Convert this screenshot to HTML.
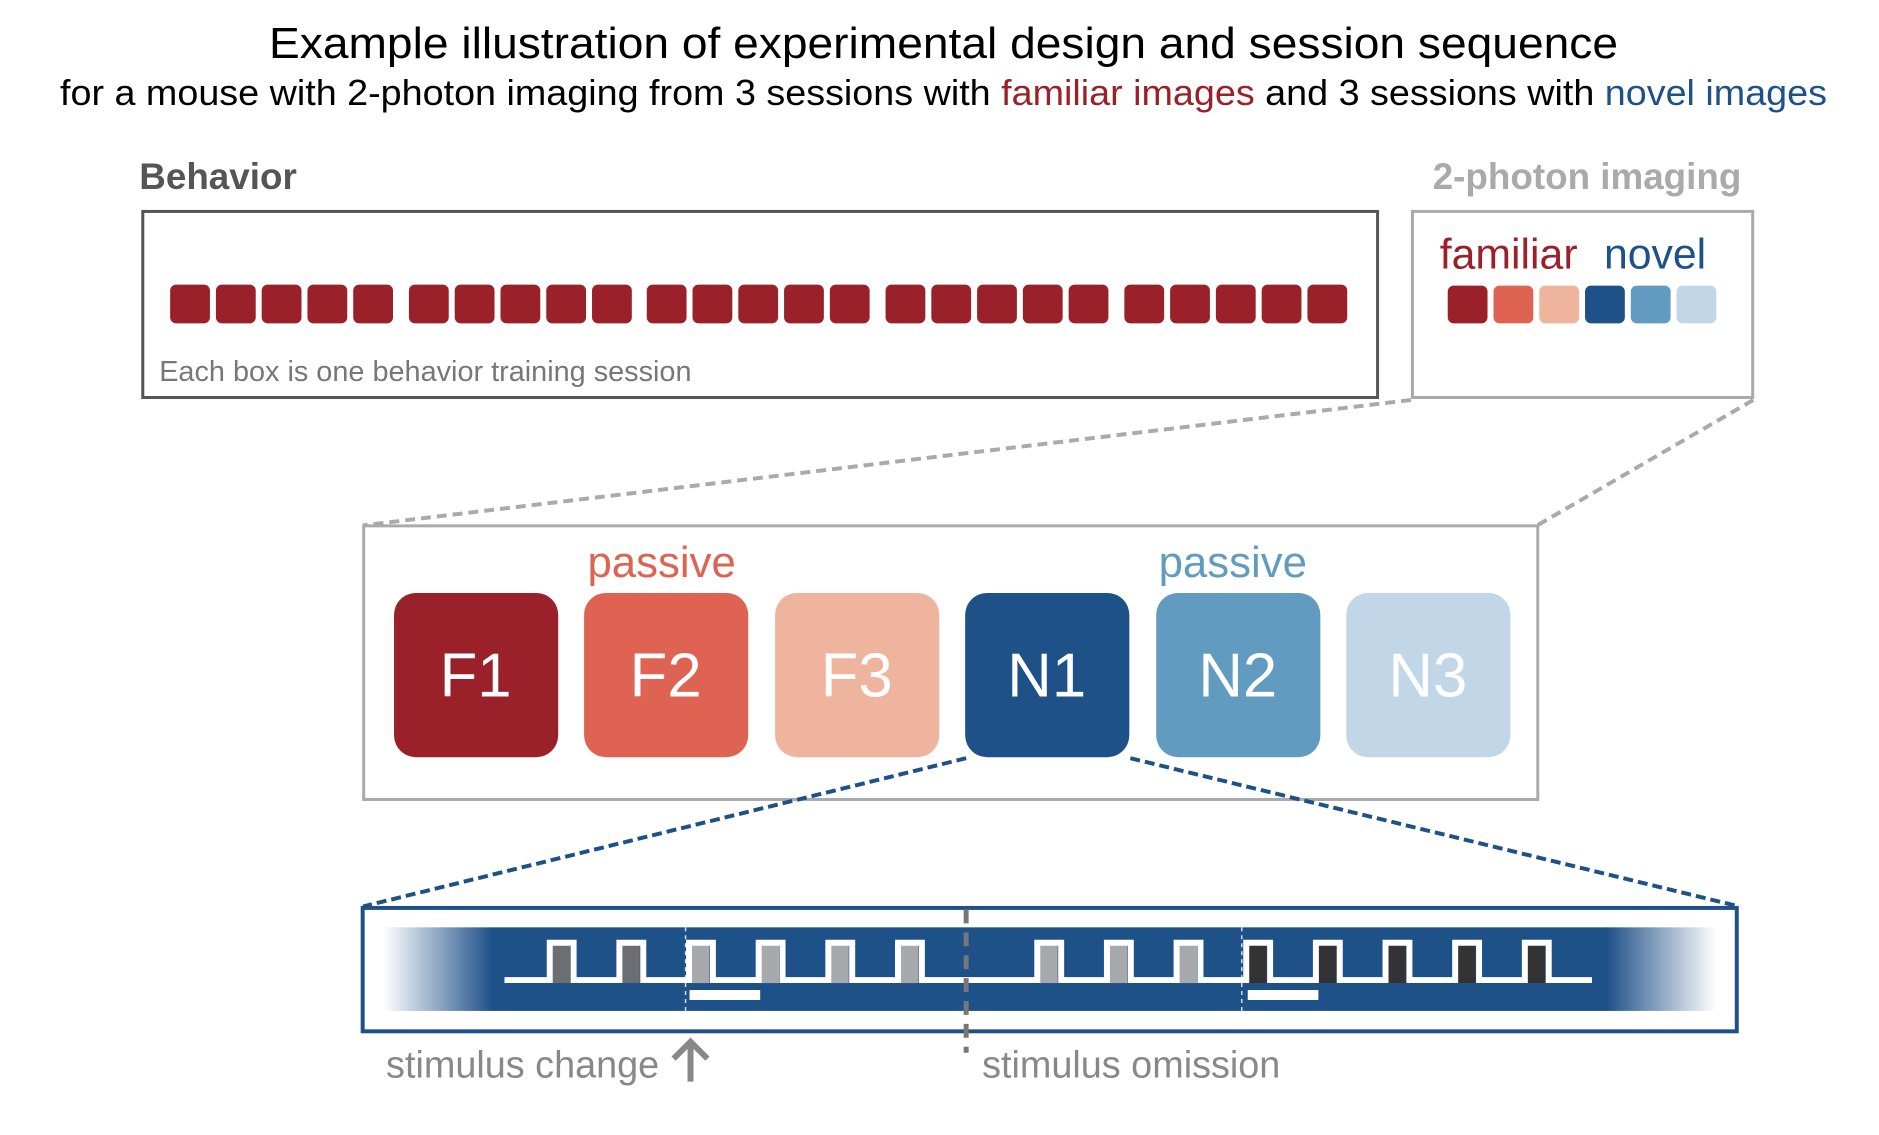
<!DOCTYPE html>
<html><head><meta charset="utf-8"><style>
html,body{margin:0;padding:0;background:#fff;}
svg{display:block;}
text{font-family:"Liberation Sans",sans-serif;}
</style></head><body>
<svg width="1879" height="1135" viewBox="0 0 1879 1135" xmlns="http://www.w3.org/2000/svg">
<defs>
<linearGradient id="gl" x1="0" x2="1" y1="0" y2="0"><stop offset="0" stop-color="#1f5189" stop-opacity="0"/><stop offset="1" stop-color="#1f5189"/></linearGradient>
<linearGradient id="gr" x1="0" x2="1" y1="0" y2="0"><stop offset="0" stop-color="#1f5189"/><stop offset="1" stop-color="#1f5189" stop-opacity="0"/></linearGradient>
</defs>
<text x="269" y="58" font-size="44" textLength="1349" lengthAdjust="spacingAndGlyphs" fill="#000">Example illustration of experimental design and session sequence</text>
<text x="60" y="105" font-size="36" textLength="1767" lengthAdjust="spacingAndGlyphs" fill="#000">for a mouse with 2-photon imaging from 3 sessions with <tspan fill="#9a2129">familiar images</tspan> and 3 sessions with <tspan fill="#1f5189">novel images</tspan></text>

<g transform="scale(0.995)">
<text x="140" y="190" font-size="37" font-weight="bold" fill="#555">Behavior</text>
<rect x="143.5" y="212.5" width="1241" height="187" fill="none" stroke="#555" stroke-width="3"/>
<g fill="#9a2129" id="beh"></g>
<text x="160" y="383" font-size="29" fill="#777">Each box is one behavior training session</text>

<text x="1595" y="190" font-size="37" font-weight="bold" fill="#aaa" text-anchor="middle">2-photon imaging</text>
<rect x="1419.5" y="212.5" width="342" height="187" fill="none" stroke="#aaa" stroke-width="3"/>
<text x="1447" y="270" font-size="43" fill="#9a2129">familiar</text>
<text x="1612" y="270" font-size="43" fill="#1f5189">novel</text>
<rect x="1455" y="287" width="40" height="38" rx="6" fill="#9a2129"/>
<rect x="1501" y="287" width="40" height="38" rx="6" fill="#de6352"/>
<rect x="1547" y="287" width="40" height="38" rx="6" fill="#efb49e"/>
<rect x="1593" y="287" width="40" height="38" rx="6" fill="#1f5189"/>
<rect x="1639" y="287" width="40" height="38" rx="6" fill="#629bc0"/>
<rect x="1685" y="287" width="40" height="38" rx="6" fill="#c1d7e7"/>

<line x1="1418" y1="402" x2="365" y2="528" stroke="#aaa" stroke-width="4" stroke-dasharray="10,6"/>
<line x1="1762" y1="402" x2="1545" y2="528" stroke="#aaa" stroke-width="4" stroke-dasharray="10,6"/>

<rect x="365.5" y="528.5" width="1180" height="275" fill="none" stroke="#aaa" stroke-width="3"/>
<text x="665" y="580" font-size="44" fill="#de6352" text-anchor="middle">passive</text>
<text x="1239" y="580" font-size="44" fill="#629bc0" text-anchor="middle">passive</text>
<g font-size="62" fill="#fff" text-anchor="middle">
<rect x="396" y="596" width="165" height="165" rx="22" fill="#9a2129"/><text x="478" y="700">F1</text>
<rect x="587" y="596" width="165" height="165" rx="22" fill="#de6352"/><text x="669" y="700">F2</text>
<rect x="779" y="596" width="165" height="165" rx="22" fill="#efb49e"/><text x="861" y="700">F3</text>
<rect x="970" y="596" width="165" height="165" rx="22" fill="#1f5189"/><text x="1052" y="700">N1</text>
<rect x="1162" y="596" width="165" height="165" rx="22" fill="#629bc0"/><text x="1244" y="700">N2</text>
<rect x="1353" y="596" width="165" height="165" rx="22" fill="#c1d7e7"/><text x="1435" y="700">N3</text>
</g>

<line x1="971" y1="762" x2="365" y2="911" stroke="#1f5189" stroke-width="4" stroke-dasharray="10,5"/>
<line x1="1136" y1="762" x2="1748" y2="911" stroke="#1f5189" stroke-width="4" stroke-dasharray="10,5"/>

<rect x="364.5" y="912.5" width="1381" height="124" fill="none" stroke="#1f5189" stroke-width="4"/>
<rect x="385" y="932" width="110" height="84" fill="url(#gl)"/>
<rect x="494" y="932" width="1122" height="84" fill="#1f5189"/>
<rect x="1615" y="932" width="110" height="84" fill="url(#gr)"/>

<g id="pulses"></g>
<line x1="689" y1="932" x2="689" y2="1016" stroke="#fff" stroke-width="1.5" stroke-dasharray="4,4" opacity="0.8"/>
<line x1="1248" y1="932" x2="1248" y2="1016" stroke="#fff" stroke-width="1.5" stroke-dasharray="4,4" opacity="0.8"/>
<rect x="693" y="995" width="71" height="10" fill="#fff"/>
<rect x="1254" y="995" width="71" height="10" fill="#fff"/>
<line x1="971" y1="914" x2="971" y2="1058" stroke="#777" stroke-width="5" stroke-dasharray="14,9"/>

<text x="388" y="1083" font-size="38" fill="#888">stimulus change</text>
<g stroke="#888" stroke-width="6" fill="none"><line x1="694" y1="1087" x2="694" y2="1047"/><polyline points="677,1064 694,1047 711,1064"/></g>
<text x="987" y="1083" font-size="38" fill="#888">stimulus omission</text>
</g>
</svg>
<script>
(function(){
var ns="http://www.w3.org/2000/svg";
var g=document.getElementById("beh");
var gs=[171,411,650,890,1130];
gs.forEach(function(s){for(var i=0;i<5;i++){var r=document.createElementNS(ns,"rect");
r.setAttribute("x",s+i*46);r.setAttribute("y",286);r.setAttribute("width",40);r.setAttribute("height",39);r.setAttribute("rx",6);r.setAttribute("fill","#9a2129");g.appendChild(r);}});
var p=document.getElementById("pulses");
var xs=[550,620,690,760,830,900,1040,1110,1180,1250,1320,1390,1460,1530];
var cols=["#6d6e71","#6d6e71","#a7a9ac","#a7a9ac","#a7a9ac","#a7a9ac","#a7a9ac","#a7a9ac","#a7a9ac","#333335","#333335","#333335","#333335","#333335"];
xs.forEach(function(x,i){var r=document.createElementNS(ns,"rect");r.setAttribute("x",x+5);r.setAttribute("y",950);r.setAttribute("width",18);r.setAttribute("height",38);r.setAttribute("fill",cols[i]);p.appendChild(r);});
var d="M507 985";
xs.forEach(function(x){d+=" H"+(x+2.5)+" V947.5 H"+(x+26.5)+" V985";});
d+=" H1600";
var pl=document.createElementNS(ns,"path");pl.setAttribute("d",d);pl.setAttribute("fill","none");pl.setAttribute("stroke","#fff");pl.setAttribute("stroke-width","6");p.appendChild(pl);
})();
</script>
</body></html>
